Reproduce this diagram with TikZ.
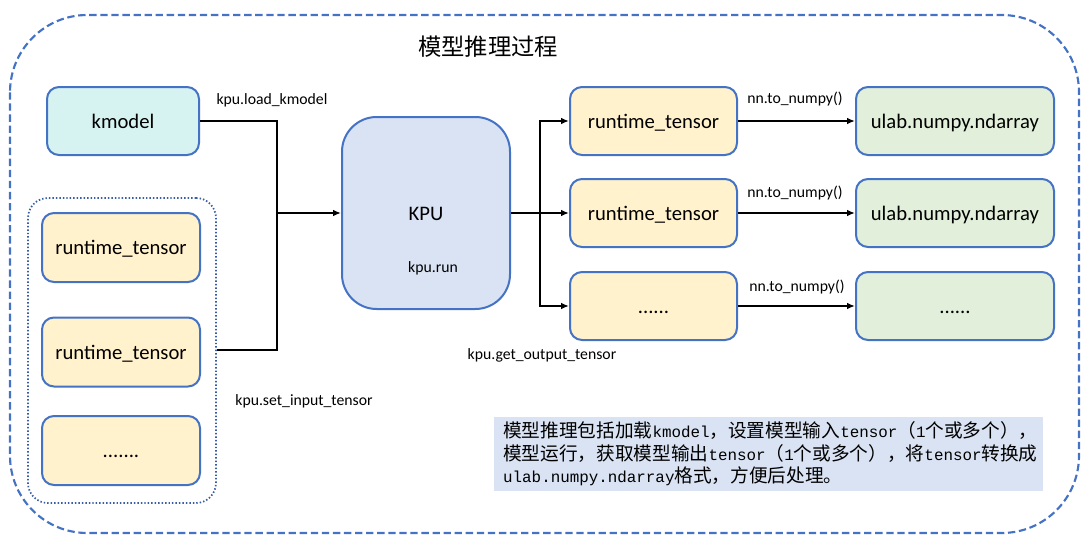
\documentclass[tikz,border=0pt]{standalone}
\usepackage{fontspec}
\setmainfont{Carlito}
\newfontfamily\cjkfont{Noto Sans CJK SC}
\newfontfamily\notemono[Scale=0.85]{Liberation Mono}
\usetikzlibrary{arrows.meta}
\definecolor{bordc}{HTML}{4472C4}
\definecolor{dotc}{HTML}{3A5DA8}
\definecolor{kmfill}{HTML}{D6F3F1}
\definecolor{rtfill}{HTML}{FFF2CC}
\definecolor{grfill}{HTML}{E2EFDA}
\definecolor{kpufill}{HTML}{DAE3F3}
\newcommand\zhs[1]{{\cjkfont #1}}
\newcommand\ens[1]{{\notemono #1}}
\begin{document}
\begin{tikzpicture}[x=0.75pt,y=-0.75pt,
  box/.style={draw=bordc,line width=1.5pt,rounded corners=9pt,font=\fontsize{15.5}{18}\selectfont,inner sep=0pt,text height=12.5pt,text depth=2pt},
  kmbox/.style={box,fill=kmfill,minimum width=114pt,minimum height=51pt},
  rtbox/.style={box,fill=rtfill,minimum width=118.5pt,minimum height=51.75pt},
  ortbox/.style={box,fill=rtfill,minimum width=125.25pt,minimum height=51pt},
  grbox/.style={box,fill=grfill,minimum width=148.5pt,minimum height=51pt},
  lbl/.style={font=\fontsize{11.8}{14}\selectfont,inner sep=0pt},
  conn/.style={line width=1.5pt,black},
  arr/.style={conn,-{Latex[length=6pt,width=5pt]}},
]
\useasboundingbox (0,0) rectangle (1090,546);
% outer dashed frame
\draw[bordc,line width=1.6pt,dash pattern=on 5.5pt off 2.8pt,rounded corners=58pt] (10,15) rectangle (1079,533);
\node[font=\cjkfont\fontsize{17.5}{20}\selectfont,inner sep=0pt] (title) at (488,47) {模型推理过程};

% input side
\node[kmbox] (km) at (123,121) {kmodel};
\node[draw=dotc,line width=1.3pt,dash pattern=on 1.1pt off 1.5pt,rounded corners=15pt,minimum width=141pt,minimum height=228.75pt] (grp) at (122,350.5) {};
\node[rtbox] (rt1) at (121,247.5) {runtime\_tensor};
\node[rtbox] (rt2) at (121,352) {runtime\_tensor};
\node[rtbox] (rt3) at (121,450.5) {.......};

% KPU
\node[box,fill=kpufill,rounded corners=26pt,minimum width=126pt,minimum height=144pt] (kpu) at (426,213) {KPU};
\node[lbl] (run) at (433,268) {kpu.run};

% output side
\node[ortbox] (o1) at (653.5,121) {runtime\_tensor};
\node[ortbox] (o2) at (653.5,213) {runtime\_tensor};
\node[ortbox] (o3) at (653.5,306) {......};
\node[grbox] (g1) at (955,121) {ulab.numpy.ndarray};
\node[grbox] (g2) at (955,213) {ulab.numpy.ndarray};
\node[grbox] (g3) at (955,306) {......};

% labels
\node[lbl] (lk) at (272,100) {kpu.load\_kmodel};
\node[lbl] (ls) at (304,401) {kpu.set\_input\_tensor};
\node[lbl] (lg) at (542,355) {kpu.get\_output\_tensor};
\node[lbl] (n1) at (795,99) {nn.to\_numpy()};
\node[lbl] (n2) at (795,193) {nn.to\_numpy()};
\node[lbl] (n3) at (797,287) {nn.to\_numpy()};

% connectors
\coordinate (j1) at (277,213);
\coordinate (j2) at (540,213);
\draw[conn] (km.east) -| (j1);
\draw[conn] (grp.east |- 0,350) -| (j1);
\draw[arr] (j1) -- (kpu.west);
\draw[conn] (kpu.east) -- (j2);
\draw[arr] (j2) |- (o1.west);
\draw[arr] (j2) -- (o2.west);
\draw[arr] (j2) |- (o3.west);
\draw[arr] (o1.east) -- (g1.west);
\draw[arr] (o2.east) -- (g2.west);
\draw[arr] (o3.east) -- (g3.west);

% note
\node[fill=kpufill,minimum width=411.75pt,minimum height=55.5pt,text width=398pt,align=left,inner xsep=6.75pt,inner ysep=0pt,font=\fontsize{14}{16.9}\selectfont] (note) at (768.5,454) {%
\zhs{模型推理包括加载}\ens{kmodel}\zhs{，设置模型输入}\ens{tensor}\zhs{（}\ens{1}\zhs{个或多个），}\\
\zhs{模型运行，获取模型输出}\ens{tensor}\zhs{（}\ens{1}\zhs{个或多个），将}\ens{tensor}\zhs{转换成}\\
\ens{ulab.numpy.ndarray}\zhs{格式，方便后处理。}};
\end{tikzpicture}
\end{document}
